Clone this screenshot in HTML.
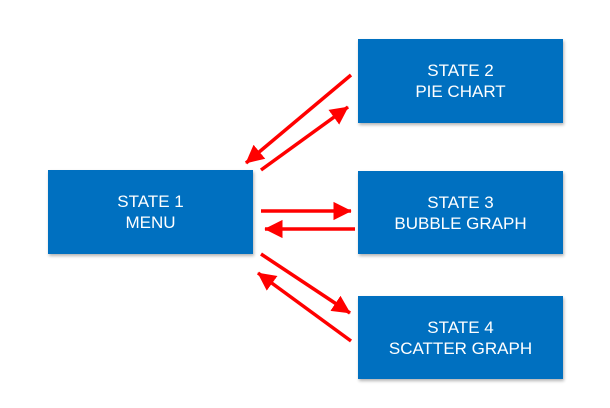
<!DOCTYPE html>
<html><head><style>
body{margin:0;width:610px;height:408px;background:#fff;position:relative;overflow:hidden;font-family:"Liberation Sans",sans-serif}
.b{position:absolute;background:#0070c0;color:#fff;font-size:17px;line-height:21px;text-align:center;display:flex;align-items:center;justify-content:center;box-shadow:1px 2px 3px rgba(0,0,0,.3)}
</style></head><body>
<div class="b" style="left:48px;top:170px;width:205px;height:84px">STATE 1<br>MENU</div>
<div class="b" style="left:358px;top:39px;width:205px;height:84px">STATE 2<br>PIE CHART</div>
<div class="b" style="left:358px;top:171px;width:205px;height:83px">STATE 3<br>BUBBLE GRAPH</div>
<div class="b" style="left:358px;top:296px;width:205px;height:83px">STATE 4<br>SCATTER GRAPH</div>
<svg width="610" height="408" style="position:absolute;left:0;top:0">
<defs><marker id="a" markerWidth="6" markerHeight="6" refX="5" refY="3" orient="auto" markerUnits="strokeWidth"><path d="M0,0.4 L5.2,3 L0,5.6 z" fill="#ff0000"/></marker></defs>
<g stroke="#ff0000" stroke-width="3.5" fill="none" marker-end="url(#a)">
<line x1="351" y1="75" x2="246" y2="163"/>
<line x1="261" y1="170" x2="348" y2="107"/>
<line x1="261" y1="211" x2="351" y2="211"/>
<line x1="355" y1="229" x2="265" y2="229"/>
<line x1="261" y1="254" x2="350" y2="313"/>
<line x1="351" y1="341" x2="258" y2="273"/>
</g></svg>
</body></html>
